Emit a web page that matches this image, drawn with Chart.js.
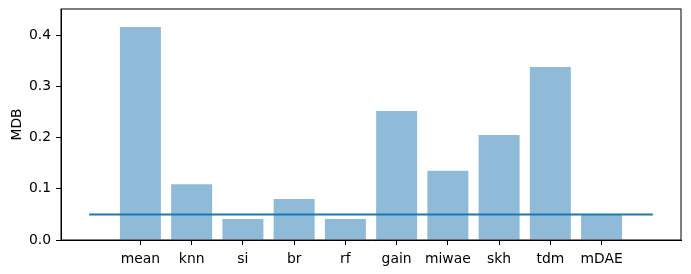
<!DOCTYPE html>
<html>
<head>
<meta charset="utf-8">
<script src="https://cdn.jsdelivr.net/npm/chart.js@4/dist/chart.umd.min.js"></script>
<style>
  body { margin: 0; background: #fff; }
  #wrap { width: 691px; height: 274px; }
</style>
</head>
<body>
<div id="wrap"><canvas id="chart" width="691" height="274"></canvas></div>
<script>
// Values
const methods = ['mean', 'knn', 'si', 'br', 'rf', 'gain', 'miwae', 'skh', 'tdm', 'mDAE'];
const mdbValues = [0.416, 0.109, 0.041, 0.080, 0.041, 0.252, 0.135, 0.205, 0.338, 0.051];
const refLevel = 0.05;
const refSpan = [-1, 10];
const yTicks = [0.0, 0.1, 0.2, 0.3, 0.4];

// Draw the top and right frame like matplotlib
const framePlugin = {
  id: 'frame',
  afterDraw(chart) {
    const a = chart.chartArea;
    const ctx = chart.ctx;
    ctx.save();
    ctx.strokeStyle = '#000';
    ctx.lineWidth = 1;
    ctx.strokeRect(a.left, a.top, a.right - a.left, a.bottom - a.top);
    ctx.restore();
  }
};

const tickFont = { family: 'DejaVu Sans', size: 13.9 };

const ctx = document.getElementById('chart');
new Chart(ctx, {
  data: {
    datasets: [
      {
        type: 'bar',
        data: mdbValues.map((v, i) => ({ x: i, y: v })),
        backgroundColor: 'rgba(31, 119, 180, 0.5)',
        borderWidth: 0,
        barPercentage: 0.8,
        categoryPercentage: 1.0,
        order: 2
      },
      {
        type: 'line',
        data: refSpan.map(x => ({ x: x, y: refLevel })),
        borderColor: '#1f77b4',
        borderWidth: 2,
        pointRadius: 0,
        fill: false,
        order: 1
      }
    ]
  },
  options: {
    responsive: false,
    animation: false,
    layout: { padding: { top: 9, right: 10, left: 0, bottom: 0 } },
    plugins: {
      legend: { display: false },
      tooltip: { enabled: false }
    },
    scales: {
      x: {
        type: 'linear',
        offset: false,
        min: -1.55,
        max: 10.55,
        afterBuildTicks(axis) {
          axis.ticks = methods.map((m, i) => ({ value: i }));
        },
        afterFit(axis) {
          axis.height = 34;
          axis.paddingLeft = 0;
          axis.paddingRight = 0;
        },
        ticks: {
          callback: v => methods[v],
          color: '#000',
          font: tickFont,
          padding: 6,
          maxRotation: 0,
          autoSkip: false
        },
        grid: { offset: false, drawOnChartArea: false, drawTicks: true, tickLength: 5, color: '#000', lineWidth: 1 },
        border: { color: '#000', width: 1 }
      },
      y: {
        min: 0,
        max: 0.451,
        afterBuildTicks(axis) {
          axis.ticks = yTicks.map(v => ({ value: v }));
        },
        afterFit(axis) {
          axis.width = 61;
          axis.paddingTop = 0;
          axis.paddingBottom = 0;
        },
        ticks: {
          callback: v => v.toFixed(1),
          color: '#000',
          font: tickFont,
          padding: 5
        },
        title: {
          display: true,
          text: 'MDB',
          color: '#000',
          font: tickFont,
          padding: { top: 9, bottom: 0 }
        },
        grid: { drawOnChartArea: false, drawTicks: true, tickLength: 5, color: '#000', lineWidth: 1 },
        border: { color: '#000', width: 1 }
      }
    }
  },
  plugins: [framePlugin]
});
</script>
</body>
</html>
